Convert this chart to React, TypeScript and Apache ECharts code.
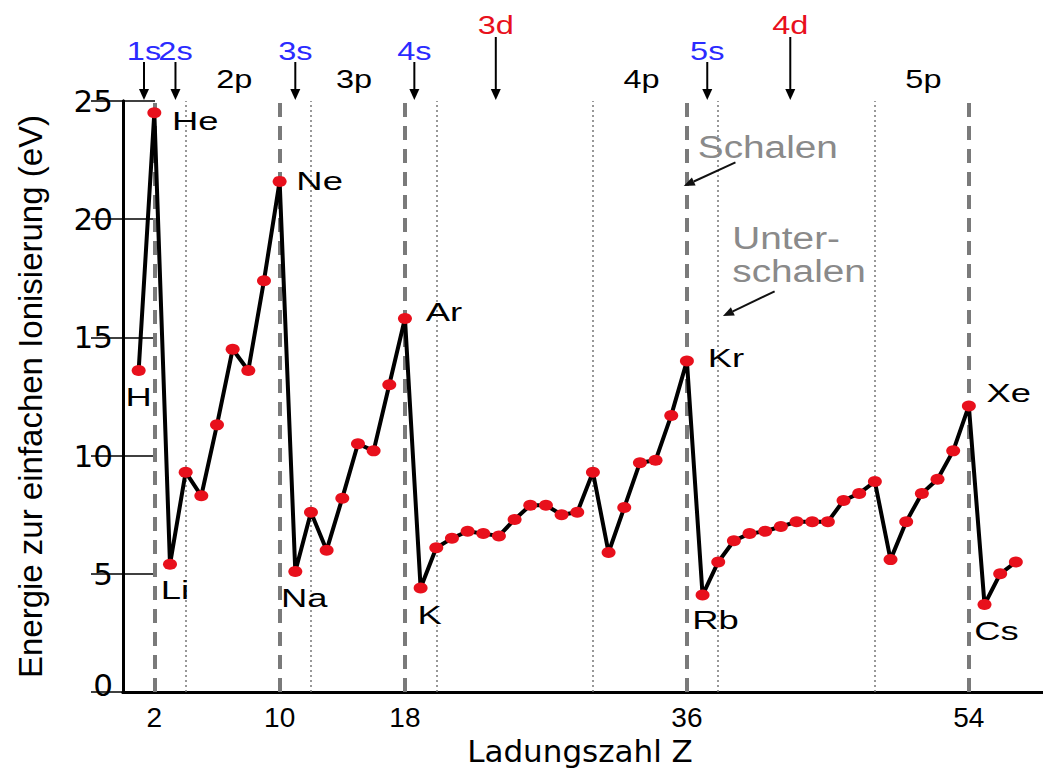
import { useEffect, useRef } from 'react';
import * as echarts from 'echarts';

// ---- data ----
const ATOMIC_NUMBERS = [
  1, 2, 3, 4, 5, 6, 7, 8, 9, 10, 11, 12, 13, 14, 15, 16, 17, 18, 19, 20,
  21, 22, 23, 24, 25, 26, 27, 28, 29, 30, 31, 32, 33, 34, 35, 36, 37, 38, 39, 40,
  41, 42, 43, 44, 45, 46, 47, 48, 49, 50, 51, 52, 53, 54, 55, 56, 57,
];
const IONIZATION_EV = [
  13.6, 24.5, 5.4, 9.3, 8.3, 11.3, 14.5, 13.6, 17.4, 21.6,
  5.1, 7.6, 6.0, 8.2, 10.5, 10.2, 13.0, 15.8,
  4.4, 6.1, 6.5, 6.8, 6.7, 6.6, 7.3, 7.9, 7.9, 7.5, 7.6, 9.3, 5.9, 7.8, 9.7, 9.8, 11.7, 14.0,
  4.1, 5.5, 6.4, 6.7, 6.8, 7.0, 7.2, 7.2, 7.2, 8.1, 8.4, 8.9, 5.6, 7.2, 8.4, 9.0, 10.2, 12.1,
  3.7, 5.0, 5.5,
];
const LABELED_ELEMENTS = ['H', 'He', 'Li', 'Ne', 'Na', 'Ar', 'K', 'Kr', 'Rb', 'Xe', 'Cs'];
const LABELED_Z = [1, 2, 3, 10, 11, 18, 19, 36, 37, 54, 55];
const SHELL_BOUNDARIES = [2, 10, 18, 36, 54];
const SUBSHELL_BOUNDARIES = [4, 12, 20, 30, 38, 48];
const X_TICK_LABELS = [2, 10, 18, 36, 54];
const ORBITAL_NAMES = ['1s', '2s', '2p', '3s', '3p', '4s', '3d', '4p', '5s', '4d', '5p'];
const ORBITAL_Z = [1.34, 3.35, 7.1, 11.0, 14.75, 18.6, 23.8, 33.1, 37.3, 42.6, 51.1];
const ORBITAL_KIND = ['s', 's', 'p', 's', 'p', 's', 'd', 'p', 's', 'd', 'p'];

// ---- styles ----
const LABEL_OFFSET: Record<string, [number, number]> = {
  H: [0, 26], He: [41, 8], Li: [5, 26], Ne: [40, 0], Na: [9, 27], Ar: [39, -7],
  K: [9, 27], Kr: [39, -3], Rb: [13, 25], Xe: [40, -13], Cs: [12, 26],
};
const KIND_STYLE: Record<string, { color: string; labelY: number; arrowTop: number | null }> = {
  s: { color: '#2b2bff', labelY: 51, arrowTop: 62 },
  d: { color: '#e8101c', labelY: 25, arrowTop: 37 },
  p: { color: '#000000', labelY: 79, arrowTop: null },
};
const FONT = 'Liberation Sans, Arial, sans-serif';
const WIDE_FONT = 'DejaVu Sans, sans-serif';

export default function App() {
  const ref = useRef<HTMLDivElement>(null);
  useEffect(() => {
    if (!ref.current) return;
    const chart = echarts.init(ref.current, null, { renderer: 'svg' });
    const points = ATOMIC_NUMBERS.map((z, i) => [z, IONIZATION_EV[i]]);
    const option: any = {
      animation: false,
      backgroundColor: '#ffffff',
      grid: { left: 123, top: 101, width: 932, height: 591, containLabel: false, outerBoundsMode: 'none' },
      xAxis: [
        {
          type: 'value', min: 0, max: 59.5, position: 'bottom',
          axisLine: { show: true, onZero: false, lineStyle: { color: '#000', width: 3 } },
          axisTick: { show: false },
          splitLine: { show: false },
          axisLabel: { customValues: X_TICK_LABELS, color: '#000', fontSize: 28, fontFamily: FONT, margin: 11 },
          name: 'Ladungszahl Z', nameLocation: 'middle', nameGap: 34,
          nameTextStyle: {
            color: '#000', fontSize: 31, fontFamily: WIDE_FONT, verticalAlign: 'top',
            padding: [0, 18, 0, 0],
          },
        },
        {
          type: 'value', min: 0, max: 59.5, position: 'top',
          axisLine: { show: true, lineStyle: { color: '#000', width: 3 } },
          axisTick: { show: false }, axisLabel: { show: false }, splitLine: { show: false },
        },
      ],
      yAxis: [
        {
          type: 'value', min: 0, max: 25, interval: 5,
          axisLine: { show: true, lineStyle: { color: '#000', width: 3 } },
          axisTick: { show: true, inside: true, length: 32, lineStyle: { color: '#000', width: 1.5 } },
          axisLabel: {
            color: '#000', fontSize: 31, fontFamily: WIDE_FONT, margin: 10,
            formatter: (v: number) => (v === 0 ? '{zero|0}' : String(v)),
            rich: { zero: { fontSize: 31, fontFamily: WIDE_FONT, color: '#000', padding: [0, 0, 14, 0] } },
          },
          splitLine: { show: false },
          name: 'Energie zur einfachen Ionisierung (eV)', nameLocation: 'middle', nameGap: 76, nameRotate: 90,
          nameTextStyle: { color: '#000', fontSize: 33, fontFamily: FONT },
        },
        {
          type: 'value', min: 0, max: 25, interval: 5, position: 'right',
          axisLine: { show: true, lineStyle: { color: '#000', width: 3 } },
          axisTick: { show: true, inside: true, length: 32, lineStyle: { color: '#000', width: 1.5 } },
          axisLabel: { show: false }, splitLine: { show: false },
        },
      ],
      series: [
        {
          type: 'line', data: points, symbol: 'none', lineStyle: { opacity: 0 }, z: 1, silent: true,
          markLine: {
            silent: true, symbol: 'none', label: { show: false },
            data: [
              ...SHELL_BOUNDARIES.map((z) => ({ xAxis: z, lineStyle: { type: [14, 9], width: 4, color: '#7a7a7a' } })),
              ...SUBSHELL_BOUNDARIES.map((z) => ({ xAxis: z, lineStyle: { type: [2, 3], width: 1.5, color: '#777' } })),
            ],
          },
        },
        {
          type: 'line', data: points, symbol: 'circle', symbolSize: [14, 11], z: 5,
          itemStyle: { color: '#e8101c' },
          lineStyle: { color: '#000', width: 4 },
        },
      ],
    };
    chart.setOption(option);

    const px = (z: number) => chart.convertToPixel({ xAxisIndex: 0 }, z) as number;
    const py = (v: number) => chart.convertToPixel({ yAxisIndex: 0 }, v) as number;
    const graphics: any[] = [];

    const textEl = (text: string, x: number, y: number, size: number, color: string, sx: number, align = 'center') => ({
      type: 'text', x, y, scaleX: sx, z: 10,
      style: {
        text, fill: color, fontSize: size, fontFamily: FONT,
        align, verticalAlign: 'middle', textAlign: align, textVerticalAlign: 'middle',
      },
    });

    // element labels
    LABELED_ELEMENTS.forEach((name, i) => {
      const z = LABELED_Z[i];
      const v = IONIZATION_EV[ATOMIC_NUMBERS.indexOf(z)];
      const [dx, dy] = LABEL_OFFSET[name];
      graphics.push(textEl(name, px(z) + dx, py(v) + dy, 26, '#000', 1.4));
    });

    // orbital labels and arrows above the plot
    const topY = py(25);
    ORBITAL_NAMES.forEach((name, i) => {
      const st = KIND_STYLE[ORBITAL_KIND[i]];
      const x = px(ORBITAL_Z[i]);
      graphics.push(textEl(name, x, st.labelY, 25, st.color, 1.3));
      if (st.arrowTop !== null) {
        graphics.push({ type: 'line', z: 10, shape: { x1: x, y1: st.arrowTop, x2: x, y2: topY - 8 }, style: { stroke: '#000', lineWidth: 2 } });
        graphics.push({ type: 'polygon', z: 10, shape: { points: [[x - 5, topY - 12], [x + 5, topY - 12], [x, topY - 1]] }, style: { fill: '#000' } });
      }
    });

    // "Schalen" / "Unterschalen" annotations
    const arrow = (z1: number, v1: number, z2: number, v2: number) => {
      const x1 = px(z1), y1 = py(v1), x2 = px(z2), y2 = py(v2);
      const ang = Math.atan2(y2 - y1, x2 - x1);
      const L = 11, W = 4.5;
      const bx = x2 - L * Math.cos(ang), by = y2 - L * Math.sin(ang);
      graphics.push({ type: 'line', z: 10, shape: { x1, y1, x2: bx, y2: by }, style: { stroke: '#111', lineWidth: 2 } });
      graphics.push({
        type: 'polygon', z: 10,
        shape: { points: [[x2, y2], [bx + W * Math.sin(ang), by - W * Math.cos(ang)], [bx - W * Math.sin(ang), by + W * Math.cos(ang)]] },
        style: { fill: '#111' },
      });
    };
    graphics.push(textEl('Schalen', px(36.7), py(23.04), 31, '#8a8a8a', 1.25, 'left'));
    arrow(39.1, 22.4, 35.8, 21.4);
    graphics.push(textEl('Unter-', px(38.9), py(19.2), 31, '#8a8a8a', 1.25, 'left'));
    graphics.push(textEl('schalen', px(38.9), py(17.8), 31, '#8a8a8a', 1.25, 'left'));
    arrow(41.6, 16.95, 38.3, 15.9);

    chart.setOption({ graphic: graphics });
    return () => chart.dispose();
  }, []);
  return <div ref={ref} style={{ position: 'absolute', left: 0, top: 0, width: 1043, height: 770 }} />;
}
